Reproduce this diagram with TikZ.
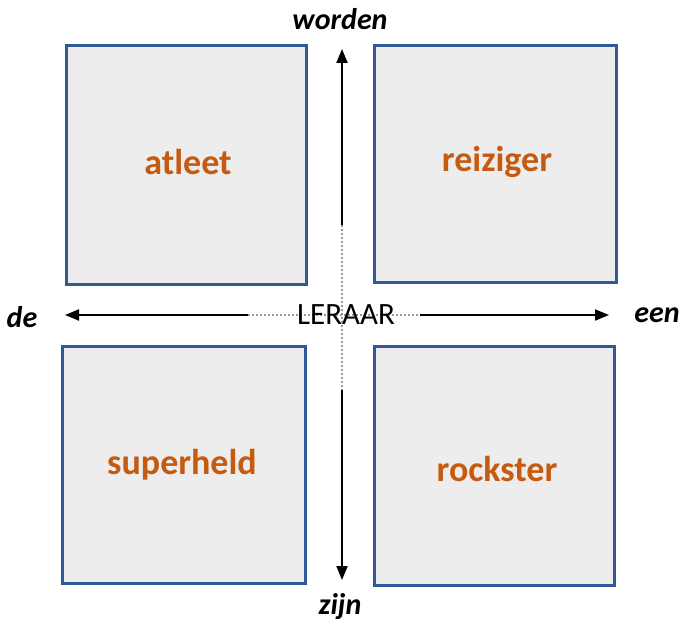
\documentclass[tikz,border=0pt]{standalone}
\usepackage{fontspec}
\setmainfont{Carlito}
\usetikzlibrary{arrows.meta}
\definecolor{boxblue}{HTML}{2F5A96}
\definecolor{boxfill}{HTML}{EDEDED}
\definecolor{wordorange}{HTML}{C55A11}
\tikzset{
  quad/.style={draw=boxblue, line width=3pt, fill=boxfill},
  quadtext/.style={text=wordorange, font=\bfseries\fontsize{36}{42}\selectfont},
  axisend/.style={font=\bfseries\itshape\fontsize{30}{34}\selectfont},
  axisline/.style={line width=2pt, -{Triangle[length=14pt,width=11pt]}},
  axisdots/.style={gray!80, line width=1.6pt, dash pattern=on 2pt off 2pt},
}
\begin{document}
\begin{tikzpicture}[x=1pt,y=-1pt]
\useasboundingbox (0,0) rectangle (679,628);
% quadrants
\draw[quad] (66,46) rectangle (306,284);
\draw[quad] (374,46) rectangle (616,282);
\draw[quad] (62,346) rectangle (305,583);
\draw[quad] (374,346) rectangle (614,585);
\node[quadtext] (atleet) at (188,162) {atleet};
\node[quadtext] (reiziger) at (497,162) {reiziger};
\node[quadtext] (superheld) at (182,465) {superheld};
\node[quadtext] (rockster) at (497,469) {rockster};
% axes
\coordinate (vtop) at (342,225);
\coordinate (vbot) at (342,390);
\coordinate (hleft) at (248,315);
\coordinate (hright) at (420,315);
\coordinate (tipN) at (342,49);
\coordinate (tipS) at (342,580);
\coordinate (tipW) at (65,315);
\coordinate (tipE) at (609,315);
\draw[axisdots] (vtop) -- (vbot);
\draw[axisdots] (hleft) -- (hright);
\draw[axisline] (vtop) -- (tipN);
\draw[axisline] (vbot) -- (tipS);
\draw[axisline] (hleft) -- (tipW);
\draw[axisline] (hright) -- (tipE);
\node[font=\fontsize{31}{36}\selectfont] (leraar) at (346,315) {LERAAR};
% axis labels
\node[axisend] (worden) at (340,19) {worden};
\node[axisend] (zijn) at (340,607) {zijn};
\node[axisend] (de) at (22,317) {de};
\node[axisend] (een) at (657,315) {een};
\end{tikzpicture}
\end{document}
